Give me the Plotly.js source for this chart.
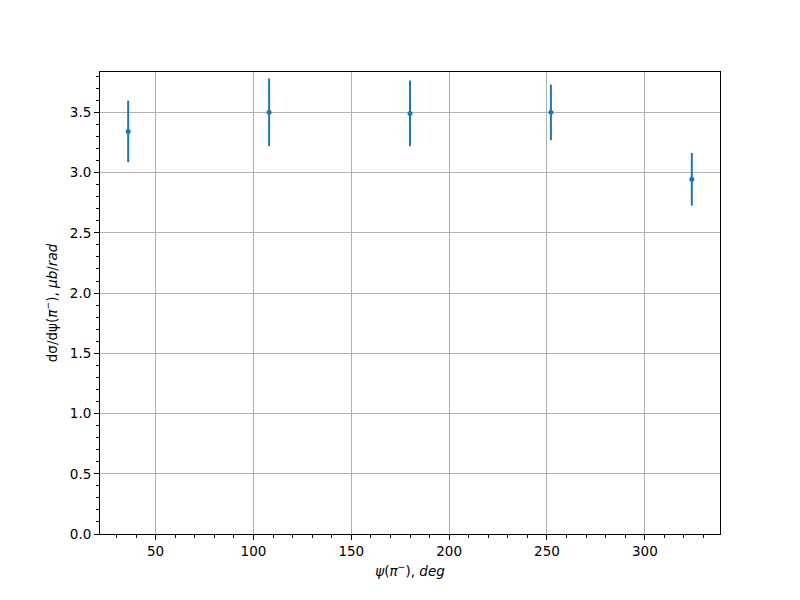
<!DOCTYPE html>
<html>
<head>
<meta charset="utf-8">
<script src="https://cdn.plot.ly/plotly-3.0.1.min.js"></script>
<style>html,body{margin:0;padding:0;background:#fff;}#plot{width:800px;height:600px;}</style>
</head>
<body>
<div id="plot"></div>
<script>
const psiDeg = [36, 108, 180, 252, 324];
const dsigma = [3.342, 3.500, 3.491, 3.500, 2.944];
const dsigmaErr = [0.256, 0.281, 0.273, 0.231, 0.219];
const xTicks = [50, 100, 150, 200, 250, 300];
const yTicks = [0, 0.5, 1.0, 1.5, 2.0, 2.5, 3.0, 3.5];

const blue = '#1f77b4';
const font = {family: 'DejaVu Sans', size: 13.5, color: '#000'};

const trace = {
  x: psiDeg,
  y: dsigma,
  type: 'scatter',
  mode: 'markers',
  marker: {color: blue, size: 5},
  error_y: {type: 'data', array: dsigmaErr, visible: true, color: blue, thickness: 2, width: 0},
  showlegend: false
};

const axisCommon = {
  showline: true, linecolor: '#000', linewidth: 1, mirror: true,
  ticks: 'outside', ticklen: 5, tickwidth: 1, tickcolor: '#000',
  showgrid: true, gridcolor: '#b0b0b0', gridwidth: 1,
  zeroline: false, tickfont: font
};

const layout = {
  width: 800, height: 600,
  margin: {l: 100, r: 80, t: 72, b: 66},
  paper_bgcolor: '#fff', plot_bgcolor: '#fff',
  font: font,
  xaxis: Object.assign({}, axisCommon, {
    range: [21.6, 338.4],
    tickmode: 'array', tickvals: xTicks, ticktext: xTicks.map(String),
    minor: {dtick: 10, tick0: 0, ticks: 'outside', ticklen: 3, tickcolor: '#000', showgrid: false},
    title: {text: '<i>ψ</i>(<i>π</i><sup>−</sup>), <i>deg</i>', font: font, standoff: 8}
  }),
  yaxis: Object.assign({}, axisCommon, {
    range: [0, 3.835],
    tickmode: 'array', tickvals: yTicks, ticktext: yTicks.map(v => v.toFixed(1)),
    minor: {dtick: 0.1, tick0: 0, ticks: 'outside', ticklen: 3, tickcolor: '#000', showgrid: false},
    title: {text: 'dσ/dψ(<i>π</i><sup>−</sup>), <i>μb</i>/<i>rad</i>', font: font, standoff: 9}
  })
};

Plotly.newPlot('plot', [trace], layout, {displayModeBar: false, staticPlot: true});
</script>
</body>
</html>
